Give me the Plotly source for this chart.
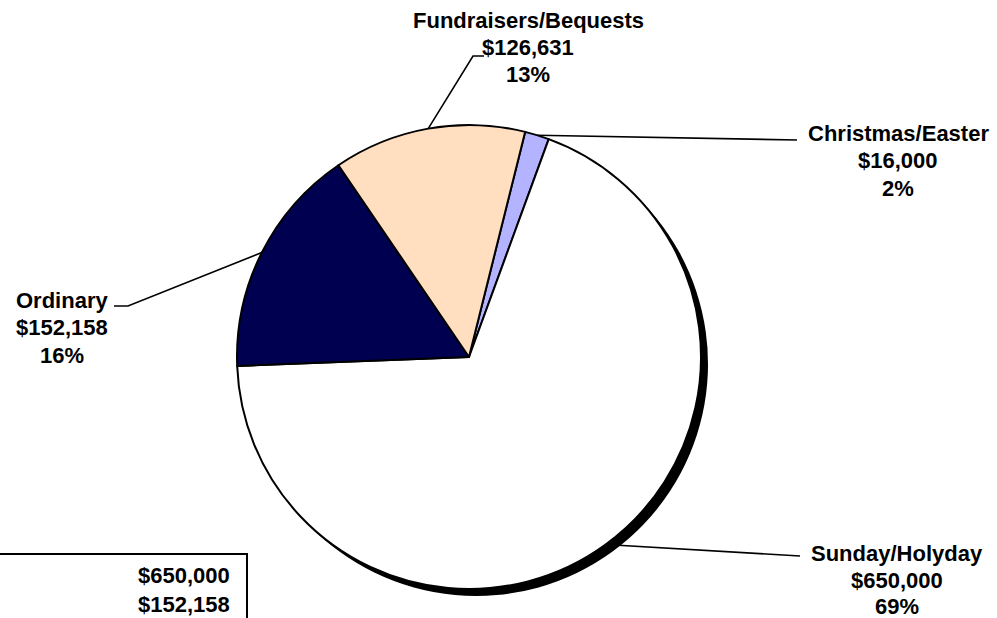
import math
import plotly.graph_objects as go

labels = ["Christmas/Easter", "Sunday/Holyday", "Ordinary", "Fundraisers/Bequests"]
values = [16000, 650000, 152158, 126631]
colors = ["#B3B3FF", "#FFFFFF", "#000050", "#FFDFC0"]
table_values = [650000, 152158]

W, H = 997, 618
CX, CY, R = 469, 357, 232
ROT = 14
SHADOW = 7

FONT = dict(family="Liberation Sans, Arial, sans-serif", size=22, color="black")

fig = go.Figure()

def dom(cx, cy):
    return dict(x=[(cx - R) / W, (cx + R) / W], y=[(H - cy - R) / H, (H - cy + R) / H])

# drop shadow
fig.add_trace(go.Pie(
    values=values, labels=labels, sort=False, direction="clockwise", rotation=ROT,
    marker=dict(colors=["black"] * len(values), line=dict(color="black", width=0)),
    textinfo="none", hoverinfo="skip", showlegend=False,
    domain=dom(CX + SHADOW, CY + SHADOW),
))
fig.add_trace(go.Pie(
    values=values, labels=labels, sort=False, direction="clockwise", rotation=ROT,
    marker=dict(colors=colors, line=dict(color="black", width=2)),
    textinfo="none", showlegend=False,
    domain=dom(CX, CY),
))

total = sum(values)
# label layout: (text center x, line y positions, leader line elbow/end points)
label_pos = {
    "Christmas/Easter": dict(x=898, y=[133, 160, 188], path=[(797, 140)]),
    "Sunday/Holyday": dict(x=897, y=[553, 580, 606], path=[(800, 556)]),
    "Ordinary": dict(x=62, y=[300, 327, 355], path=[(128, 306), (114, 306)]),
    "Fundraisers/Bequests": dict(x=528, y=[20, 47, 74], path=[(473, 56), (484, 56)]),
}

cum = 0
for lab, v in zip(labels, values):
    frac = v / total
    mid = math.radians(ROT + (cum + frac / 2) * 360)
    cum += frac
    sx = CX + R * math.sin(mid)
    sy = CY - R * math.cos(mid)
    p = label_pos[lab]
    pts = [(sx, sy)] + p["path"]
    path = "M " + " L ".join(f"{a},{b}" for a, b in pts)
    fig.add_shape(type="path", path=path, xref="x", yref="y",
                  line=dict(color="black", width=1.6))
    lines = [lab, f"${v:,}", f"{round(frac * 100)}%"]
    for t, yy in zip(lines, p["y"]):
        fig.add_annotation(x=p["x"], y=yy, xref="x", yref="y", text=f"<b>{t}</b>",
                           showarrow=False, xanchor="center", yanchor="middle", font=FONT)

# partial data table at bottom-left
fig.add_shape(type="rect", x0=-5, x1=247, y0=554, y1=625, xref="x", yref="y",
              line=dict(color="black", width=2), fillcolor="white")
for v, yy in zip(table_values, [575, 604]):
    fig.add_annotation(x=232, y=yy, xref="x", yref="y", text=f"<b>${v:,}</b>",
                       showarrow=False, xanchor="right", yanchor="middle", font=FONT)

fig.update_layout(
    width=W, height=H, margin=dict(l=0, r=0, t=0, b=0),
    paper_bgcolor="white", plot_bgcolor="rgba(0,0,0,0)",
    xaxis=dict(range=[0, W], visible=False, fixedrange=True),
    yaxis=dict(range=[H, 0], visible=False, fixedrange=True),
)
fig.write_html("out.html", config={"displayModeBar": False},
               post_script="document.body.style.margin='0';document.body.style.overflow='hidden';")
